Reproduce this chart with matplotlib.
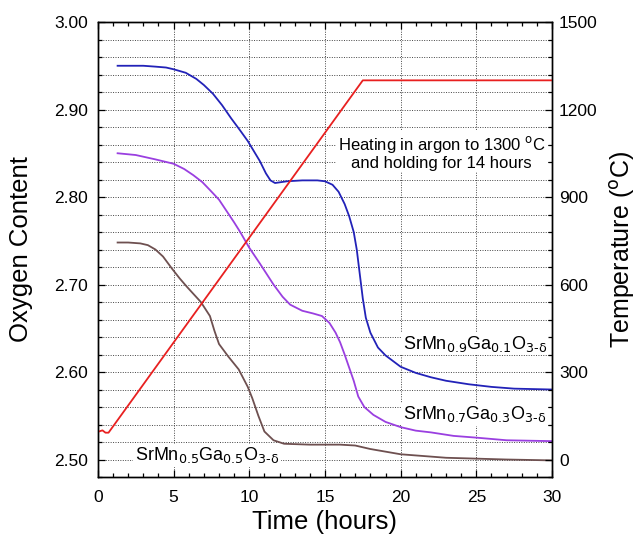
import matplotlib
matplotlib.use('Agg')
import matplotlib.pyplot as plt
from matplotlib.ticker import MultipleLocator

plt.rcParams['font.family'] = ['Liberation Sans', 'DejaVu Sans']
plt.rcParams['mathtext.fontset'] = 'custom'
plt.rcParams['mathtext.rm'] = 'Liberation Sans Narrow'
plt.rcParams['mathtext.it'] = 'Liberation Sans Narrow'
plt.rcParams['mathtext.default'] = 'rm'

# Oxygen content vs time for each composition
t_09 = [1.3, 2.0, 3.0, 3.8, 4.5, 5.0, 5.8, 6.5, 7.0, 7.6, 8.2, 8.8, 9.4, 9.9, 10.7,
        11.1, 11.4, 11.7, 12.5, 13.5, 14.5, 15.0, 15.5, 15.9, 16.3, 16.6, 16.9, 17.1,
        17.3, 17.5, 17.7, 18.0, 18.5, 19.0, 20.0, 21.0, 22.0, 23.0, 24.5, 26.0, 27.5, 30.0]
o_09 = [2.950, 2.950, 2.950, 2.949, 2.948, 2.946, 2.942, 2.935, 2.928, 2.918, 2.905,
        2.890, 2.876, 2.864, 2.841, 2.827, 2.819, 2.816, 2.818, 2.819, 2.819, 2.818,
        2.814, 2.806, 2.792, 2.778, 2.760, 2.740, 2.712, 2.684, 2.662, 2.645, 2.628,
        2.619, 2.606, 2.599, 2.594, 2.590, 2.586, 2.583, 2.581, 2.580]

t_07 = [1.3, 2.5, 3.8, 5.0, 5.7, 6.3, 6.9, 7.4, 8.0, 8.5, 9.0, 9.4, 10.0, 10.7, 11.6,
        12.2, 12.7, 13.5, 14.2, 14.8, 15.3, 15.7, 16.0, 16.3, 16.6, 16.9, 17.2, 17.6,
        18.2, 19.0, 20.0, 21.0, 22.0, 23.5, 25.0, 27.0, 30.0]
o_07 = [2.850, 2.848, 2.843, 2.838, 2.832, 2.825, 2.817, 2.808, 2.797, 2.784, 2.771,
        2.760, 2.742, 2.724, 2.700, 2.686, 2.677, 2.670, 2.667, 2.664, 2.656, 2.645,
        2.634, 2.620, 2.605, 2.590, 2.572, 2.560, 2.551, 2.543, 2.537, 2.533, 2.531,
        2.527, 2.525, 2.522, 2.521]

t_05 = [1.3, 2.0, 2.8, 3.3, 3.8, 4.3, 4.9, 5.4, 5.9, 6.8, 7.4, 7.7, 8.0, 8.6, 9.3,
        9.9, 10.2, 10.6, 11.0, 11.6, 12.3, 14.0, 16.0, 17.0, 18.0, 19.0, 20.0,
        21.5, 23.0, 25.0, 27.0, 30.0]
o_05 = [2.748, 2.748, 2.747, 2.745, 2.740, 2.732, 2.718, 2.707, 2.697, 2.680, 2.664,
        2.647, 2.632, 2.618, 2.603, 2.583, 2.570, 2.550, 2.532, 2.522, 2.518,
        2.517, 2.517, 2.516, 2.512, 2.509, 2.506, 2.504, 2.502, 2.501, 2.500, 2.499]

# furnace temperature program
t_temp = [0.0, 0.3, 0.5, 0.7, 17.5, 30.0]
temp = [95, 100, 92, 92, 1300, 1300]

fig = plt.figure(figsize=(6.4, 5.37), dpi=100)
ax = fig.add_axes([0.153, 0.1117, 0.7095, 0.8473])
ax2 = ax.twinx()

ax.plot(t_09, o_09, color='#2222b8', lw=1.3)
ax.plot(t_07, o_07, color='#9a3fe0', lw=1.3)
ax.plot(t_05, o_05, color='#6e5050', lw=1.3)
ax2.plot(t_temp, temp, color='#e82020', lw=1.3)

ax.set_xlim(0, 30)
ax.set_ylim(2.48, 3.00)
ax2.set_ylim(-60, 1500)

ax.xaxis.set_major_locator(MultipleLocator(5))
ax.xaxis.set_minor_locator(MultipleLocator(1))
ax.yaxis.set_major_locator(MultipleLocator(0.1))
ax.yaxis.set_minor_locator(MultipleLocator(0.02))
ax2.yaxis.set_major_locator(MultipleLocator(300))
ax2.yaxis.set_minor_locator(MultipleLocator(60))
ax.yaxis.set_major_formatter(matplotlib.ticker.FormatStrFormatter('%.2f'))

ax.tick_params(axis='x', which='both', direction='in', top=True, labelsize=12.5, pad=9)
ax.tick_params(axis='y', which='both', direction='in', right=False, labelsize=12.5, pad=7)
ax2.tick_params(axis='y', which='both', direction='in', labelsize=12.5, pad=5)
for a in (ax, ax2):
    a.tick_params(which='major', length=5, width=0.9)
    a.tick_params(which='minor', length=3, width=0.9)
    for s in a.spines.values():
        s.set_linewidth(1.0)

# dotted grid
grid_kw = dict(color='#444444', linestyle=(0, (1, 1.5)), linewidth=0.7)
ax.yaxis.grid(True, which='both', **grid_kw)
ax.xaxis.grid(True, which='major', **grid_kw)
ax.set_axisbelow(True)
ax2.set_zorder(ax.get_zorder() + 1)
ax2.patch.set_visible(False)

ax.set_xlabel('Time (hours)', fontsize=18.5)
ax.set_ylabel('Oxygen Content', fontsize=18.5)
ax2.set_ylabel('Temperature ($^{\\mathrm{o}}$C)', fontsize=18, rotation=90)
ax.xaxis.set_label_coords(0.498, -0.072)
ax.yaxis.set_label_coords(-0.142, 0.5)
ax2.yaxis.set_label_coords(1.124, 0.5)

narrow = ['Liberation Sans Narrow', 'Liberation Sans']
box = dict(facecolor='white', edgecolor='none', pad=1)
ax.text(22.7, 2.851, 'Heating in argon to 1300 $^{\\mathrm{o}}$C\nand holding for 14 hours',
        ha='center', va='center', fontsize=12, family=narrow, linespacing=1.1,
        bbox=box, zorder=3)
ax.text(20.15, 2.6264, 'SrMn$_{0.9}$Ga$_{0.1}$O$_{3\\text{-}δ}$', fontsize=13,
        family=narrow, va='baseline', bbox=box, zorder=3)
ax.text(20.15, 2.546, 'SrMn$_{0.7}$Ga$_{0.3}$O$_{3\\text{-}δ}$', fontsize=13,
        family=narrow, va='baseline', bbox=box, zorder=3)
ax.text(2.44, 2.4989, 'SrMn$_{0.5}$Ga$_{0.5}$O$_{3\\text{-}δ}$', fontsize=13,
        family=narrow, va='baseline', bbox=box, zorder=3)

fig.savefig('out.png', dpi=100)
